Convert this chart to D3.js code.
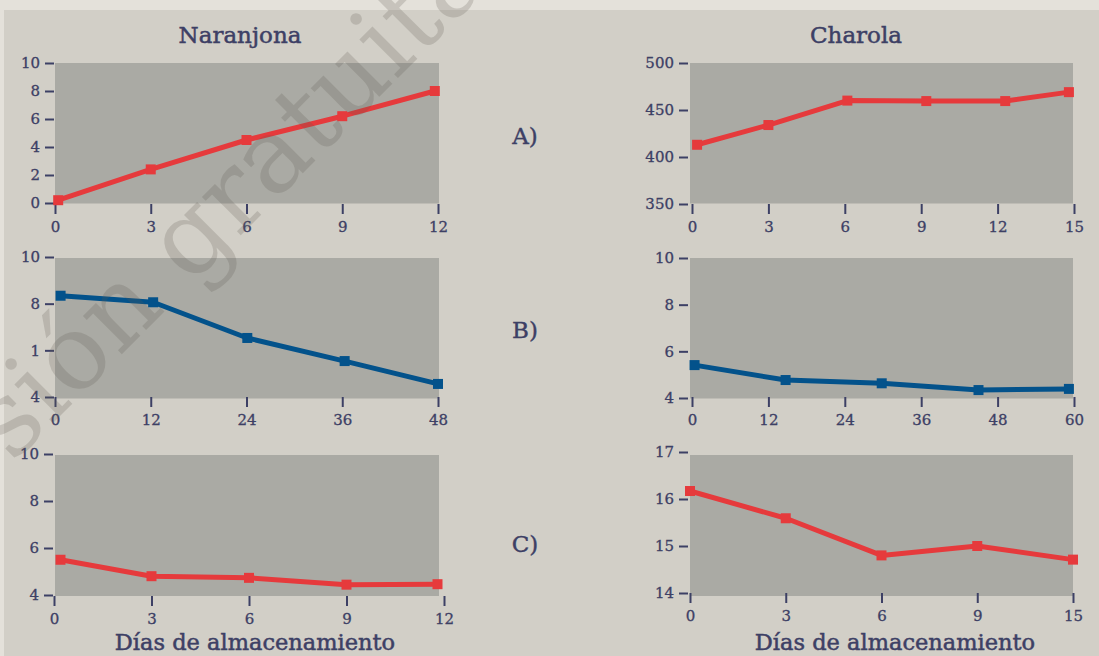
<!DOCTYPE html>
<html>
<head>
<meta charset="utf-8">
<script src="https://cdn.jsdelivr.net/npm/d3@7/dist/d3.min.js"></script>
<style>
  html, body { margin: 0; padding: 0; background: #e4e1da; }
  svg { display: block; }
  text { font-family: "DejaVu Serif", serif; fill: #3d4065; }
</style>
</head>
<body>
<svg id="chart" width="1099" height="656"></svg>
<script>
// ---- Data ----
const colTitles = ["Naranjona", "Charola"];
const rowLabels = ["A)", "B)", "C)"];
const xAxisTitle = "Días de almacenamiento";
const watermarkText = "Versión gratuita";

// A) Naranjona
const aLeftDays = [0.1, 3, 6, 9, 11.9];
const aLeftValues = [0.2, 2.4, 4.5, 6.2, 8.0];
const aLeftXTicks = [0, 3, 6, 9, 12];
const aLeftYTicks = [0, 2, 4, 6, 8, 10];
const aLeftYLabels = ["0", "2", "4", "6", "8", "10"];

// A) Charola
const aRightDays = [0.2, 3, 6.1, 9.2, 12.3, 14.8];
const aRightValues = [413, 434, 460, 459.5, 459.5, 469];
const aRightXTicks = [0, 3, 6, 9, 12, 15];
const aRightYTicks = [350, 400, 450, 500];
const aRightYLabels = ["350", "400", "450", "500"];

// B) Naranjona
const bLeftDays = [0.7, 12.3, 24.1, 36.3, 48];
const bLeftValues = [8.34, 8.06, 6.53, 5.54, 4.56];
const bLeftXTicks = [0, 12, 24, 36, 48];
const bLeftYTicks = [4, 6, 8, 10];
const bLeftYLabels = ["4", "1", "8", "10"];

// B) Charola
const bRightDays = [0.4, 14.7, 29.8, 45, 59.2];
const bRightValues = [5.41, 4.77, 4.63, 4.34, 4.39];
const bRightXTicks = [0, 12, 24, 36, 48, 60];
const bRightYTicks = [4, 6, 8, 10];
const bRightYLabels = ["4", "6", "8", "10"];

// C) Naranjona
const cLeftDays = [0.2, 3, 6, 9, 11.8];
const cLeftValues = [5.5, 4.8, 4.73, 4.44, 4.46];
const cLeftXTicks = [0, 3, 6, 9, 12];
const cLeftYTicks = [4, 6, 8, 10];
const cLeftYLabels = ["4", "6", "8", "10"];

// C) Charola (categorical days)
const cRightDays = ["0", "3", "6", "9", "15"];
const cRightValues = [16.17, 15.59, 14.80, 15.0, 14.71];
const cRightYTicks = [14, 15, 16, 17];
const cRightYLabels = ["14", "15", "16", "17"];

const RED = "#e63a3c";
const BLUE = "#03528b";
const INK = "#3d4065";

// ---- Layout ----
const svg = d3.select("#chart");
svg.append("rect").attr("x", 0).attr("y", 0).attr("width", 1099).attr("height", 656).attr("fill", "#e4e1da");
svg.append("rect").attr("x", 4).attr("y", 10).attr("width", 1095).attr("height", 646).attr("fill", "#d2cfc7");

const panels = [
  { rect: [55, 63, 439, 203.5], xDom: [0, 12], xRange: [55, 438], yDom: [0, 10], yRange: [203, 63], axisX: 54, axisY: 204,
    days: aLeftDays, values: aLeftValues, xTicks: aLeftXTicks, yTicks: aLeftYTicks, yLabels: aLeftYLabels, color: RED },
  { rect: [690, 63, 1073, 203.5], xDom: [0, 15], xRange: [692, 1074], yDom: [350, 500], yRange: [204, 63], axisX: 688, axisY: 204,
    days: aRightDays, values: aRightValues, xTicks: aRightXTicks, yTicks: aRightYTicks, yLabels: aRightYLabels, color: RED },
  { rect: [55, 258, 439, 398.5], xDom: [0, 48], xRange: [55, 438], yDom: [4, 10], yRange: [397, 257], axisX: 54, axisY: 397,
    days: bLeftDays, values: bLeftValues, xTicks: bLeftXTicks, yTicks: bLeftYTicks, yLabels: bLeftYLabels, color: BLUE },
  { rect: [690, 258, 1073, 398.5], xDom: [0, 60], xRange: [692, 1074], yDom: [4, 10], yRange: [398, 258], axisX: 688, axisY: 397,
    days: bRightDays, values: bRightValues, xTicks: bRightXTicks, yTicks: bRightYTicks, yLabels: bRightYLabels, color: BLUE },
  { rect: [55, 455, 439, 596], xDom: [0, 12], xRange: [54, 444], yDom: [4, 10], yRange: [595, 454], axisX: 53, axisY: 596,
    days: cLeftDays, values: cLeftValues, xTicks: cLeftXTicks, yTicks: cLeftYTicks, yLabels: cLeftYLabels, color: RED },
  { rect: [690, 455, 1073, 596], xCats: cRightDays, xRange: [690, 1073], yDom: [14, 17], yRange: [593, 452], axisX: 688, axisY: 593,
    days: cRightDays, values: cRightValues, yTicks: cRightYTicks, yLabels: cRightYLabels, color: RED }
];

panels.forEach(p => {
  const g = svg.append("g");
  g.append("rect")
    .attr("x", p.rect[0]).attr("y", p.rect[1])
    .attr("width", p.rect[2] - p.rect[0]).attr("height", p.rect[3] - p.rect[1])
    .attr("fill", "#aaaaa4");

  let x, xAxis;
  if (p.xCats) {
    x = d3.scalePoint().domain(p.xCats).range(p.xRange);
    xAxis = d3.axisBottom(x);
  } else {
    x = d3.scaleLinear().domain(p.xDom).range(p.xRange);
    xAxis = d3.axisBottom(x).tickValues(p.xTicks).tickFormat(d3.format("d"));
  }
  const y = d3.scaleLinear().domain(p.yDom).range(p.yRange);

  const ya = g.append("g").attr("transform", `translate(${p.axisX},0)`)
    .call(d3.axisLeft(y).tickValues(p.yTicks).tickSize(9).tickPadding(5)
      .tickFormat((d, i) => p.yLabels[i]));
  const xa = g.append("g").attr("transform", `translate(0,${p.axisY})`)
    .call(xAxis.tickSize(10).tickPadding(7));

  [ya, xa].forEach(a => {
    a.select(".domain").remove();
    a.selectAll(".tick line").attr("stroke", INK).attr("stroke-width", 2);
    a.selectAll(".tick text").attr("font-family", "DejaVu Serif").attr("font-size", 15)
      .attr("fill", INK).attr("stroke", INK).attr("stroke-width", 0.3);
  });

  const line = d3.line().x((d, i) => x(p.days[i])).y(d => y(d));
  g.append("path").datum(p.values)
    .attr("d", line).attr("fill", "none").attr("stroke", p.color)
    .attr("stroke-width", 5).attr("stroke-linejoin", "round");
  g.selectAll("rect.mk").data(p.values).enter().append("rect")
    .attr("class", "mk")
    .attr("x", (d, i) => x(p.days[i]) - 5).attr("y", d => y(d) - 5)
    .attr("width", 10).attr("height", 10).attr("fill", p.color);
});

// Titles
const colTitleX = [240, 856];
svg.selectAll("text.coltitle").data(colTitles).enter().append("text")
  .attr("class", "coltitle")
  .attr("x", (d, i) => colTitleX[i]).attr("y", 43)
  .attr("text-anchor", "middle").attr("font-size", 23)
  .attr("stroke", INK).attr("stroke-width", 0.5).text(d => d);

const rowLabelY = [144, 338, 552];
svg.selectAll("text.rowlabel").data(rowLabels).enter().append("text")
  .attr("class", "rowlabel")
  .attr("x", 525).attr("y", (d, i) => rowLabelY[i])
  .attr("text-anchor", "middle").attr("font-size", 23)
  .attr("stroke", INK).attr("stroke-width", 0.4).text(d => d);

const axisTitleX = [255, 895];
svg.selectAll("text.axtitle").data(axisTitleX).enter().append("text")
  .attr("class", "axtitle")
  .attr("x", d => d).attr("y", 650)
  .attr("text-anchor", "middle").attr("font-size", 22.5)
  .attr("stroke", INK).attr("stroke-width", 0.5).text(xAxisTitle);

// Watermark
svg.append("text")
  .attr("transform", "translate(-114,590) rotate(-45)")
  .attr("text-anchor", "start")
  .attr("font-size", 105)
  .style("fill", "#5e5a50").style("fill-opacity", 0.22)
  .text(watermarkText);
</script>
</body>
</html>
